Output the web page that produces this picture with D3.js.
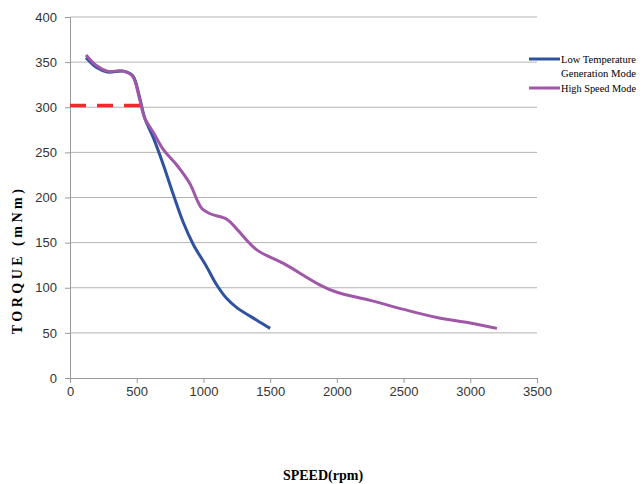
<!DOCTYPE html>
<html>
<head>
    <meta charset="utf-8">
    <title>Torque vs Speed</title>
    <script src="https://d3js.org/d3.v7.min.js"></script>
    <style>
        body { margin: 0; background: #fff; }
        .tick text { font-family: "Liberation Sans", Arial, sans-serif; font-size: 13px; fill: #333; }
    </style>
</head>
<body>
    <div id="chart"></div>

    <script>
        // values
        const xTicks = [0, 500, 1000, 1500, 2000, 2500, 3000, 3500];
        const yTicks = [0, 50, 100, 150, 200, 250, 300, 350, 400];

        const lowTempSpeed  = [120, 200, 280, 400, 470, 520, 560, 625, 700, 775, 850, 924, 1025, 1100, 1175, 1250, 1400, 1500];
        const lowTempTorque = [355, 344, 339, 340, 335, 312, 288, 266, 236, 203, 172, 148, 123, 103, 88, 78, 64, 55];

        const highSpeedSpeed  = [120, 200, 280, 400, 470, 520, 560, 625, 700, 800, 900, 950, 987, 1050, 1175, 1250, 1400, 1600, 1875, 2000, 2250, 2500, 2750, 3000, 3200];
        const highSpeedTorque = [358, 346, 340, 340, 334, 310, 288, 272, 253, 236, 215, 198, 188, 182, 176, 165, 142, 127, 103, 95, 86, 76, 67, 61, 55];

        const limitSpeed  = [0, 525];
        const limitTorque = [302, 302];

        const margin = {top: 17, right: 106, bottom: 106, left: 70},
            width = 643 - margin.left - margin.right,
            height = 484 - margin.top - margin.bottom;

        const svg = d3.select("#chart").append("svg")
            .attr("width", 643)
            .attr("height", 484);

        const g = svg.append("g")
            .attr("transform", "translate(" + margin.left + "," + margin.top + ")");

        const x = d3.scaleLinear().domain([0, 3500]).range([0, width]);
        const y = d3.scaleLinear().domain([0, 400]).range([height, 0]);

        // gridlines
        g.selectAll(".grid")
            .data(yTicks.slice(1))
            .enter().append("line")
            .attr("x1", 0).attr("x2", width)
            .attr("y1", d => y(d)).attr("y2", d => y(d))
            .attr("stroke", "#b3b3b3")
            .attr("stroke-width", 1);

        const xAxis = g.append("g")
            .attr("transform", "translate(0," + height + ")")
            .call(d3.axisBottom(x).tickValues(xTicks).tickFormat(d3.format("d")).tickSize(5).tickPadding(4));
        const yAxis = g.append("g")
            .call(d3.axisLeft(y).tickValues(yTicks).tickFormat(d3.format("d")).tickSize(5).tickPadding(8));
        [xAxis, yAxis].forEach(a => {
            a.selectAll("path").attr("stroke", "#999");
            a.selectAll("line").attr("stroke", "#999");
        });

        const line = d3.line()
            .x(d => x(d[0]))
            .y(d => y(d[1]))
            .curve(d3.curveCatmullRom.alpha(0.5));

        g.append("path")
            .datum(limitSpeed.map((s, i) => [s, limitTorque[i]]))
            .attr("d", d3.line().x(d => x(d[0])).y(d => y(d[1])))
            .attr("fill", "none")
            .attr("stroke", "#ee2a2a")
            .attr("stroke-width", 3.5)
            .attr("stroke-dasharray", "16,11");

        g.append("path")
            .datum(lowTempSpeed.map((s, i) => [s, lowTempTorque[i]]))
            .attr("d", line)
            .attr("fill", "none")
            .attr("stroke", "#2e52a0")
            .attr("stroke-width", 3);

        g.append("path")
            .datum(highSpeedSpeed.map((s, i) => [s, highSpeedTorque[i]]))
            .attr("d", line)
            .attr("fill", "none")
            .attr("stroke", "#a057a8")
            .attr("stroke-width", 3);

        // legend
        const legend = svg.append("g").attr("font-family", "Liberation Serif, Times New Roman, serif")
            .attr("font-size", 11);
        legend.append("line").attr("x1", 529).attr("x2", 560).attr("y1", 59).attr("y2", 59)
            .attr("stroke", "#2e52a0").attr("stroke-width", 3);
        legend.append("text").attr("x", 561).attr("y", 63).attr("textLength", 75).attr("lengthAdjust", "spacingAndGlyphs").text("Low Temperature");
        legend.append("text").attr("x", 561).attr("y", 77).attr("textLength", 75).attr("lengthAdjust", "spacingAndGlyphs").text("Generation Mode");
        legend.append("line").attr("x1", 529).attr("x2", 560).attr("y1", 88).attr("y2", 88)
            .attr("stroke", "#a057a8").attr("stroke-width", 3);
        legend.append("text").attr("x", 561).attr("y", 92).attr("textLength", 75).attr("lengthAdjust", "spacingAndGlyphs").text("High Speed Mode");

        // axis titles
        svg.append("text")
            .attr("x", 323).attr("y", 480)
            .attr("text-anchor", "middle")
            .attr("font-family", "Liberation Serif, Times New Roman, serif")
            .attr("font-weight", "bold")
            .attr("font-size", 14)
            .text("SPEED(rpm)");

        svg.append("text")
            .attr("transform", "translate(22,260) rotate(-90)")
            .attr("text-anchor", "middle")
            .attr("font-family", "Liberation Serif, Times New Roman, serif")
            .attr("font-weight", "bold")
            .attr("font-size", 14)
            .attr("letter-spacing", 3.5)
            .text("TORQUE (mNm)");
    </script>
</body>
</html>
